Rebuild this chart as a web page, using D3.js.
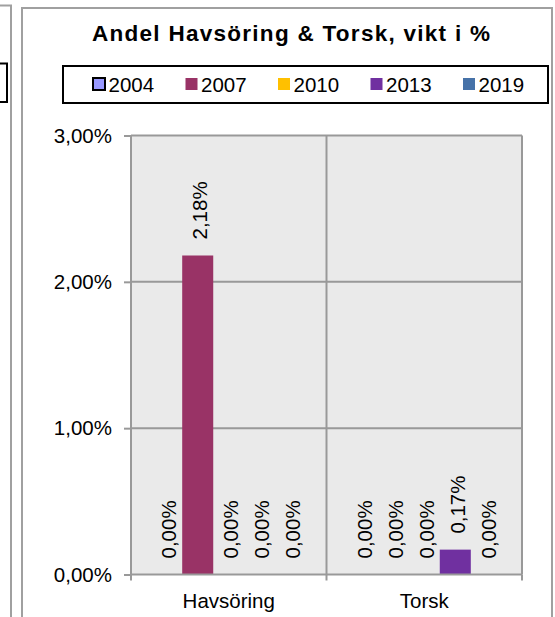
<!DOCTYPE html>
<html>
<head>
<meta charset="utf-8">
<script src="https://cdn.jsdelivr.net/npm/d3@7"></script>
<style>
  html, body { margin: 0; padding: 0; background: #fff; }
  svg { display: block; font-family: "Liberation Sans", Arial, sans-serif; }
</style>
</head>
<body>
<svg id="chart" width="555" height="617"></svg>
<script>
// ---- data ----
const categories = ["Havsöring", "Torsk"];
const years = ["2004", "2007", "2010", "2013", "2019"];
const v2004 = [0.00, 0.00];
const v2007 = [2.18, 0.00];
const v2010 = [0.00, 0.00];
const v2013 = [0.00, 0.17];
const v2019 = [0.00, 0.00];
const yTicks = [0, 1, 2, 3];
const colors = ["#9999ff", "#993366", "#ffc000", "#7030a0", "#4672a8"];
const title = "Andel Havsöring & Torsk, vikt i %";

const seriesValues = [v2004, v2007, v2010, v2013, v2019];
const fmt = d => d.toFixed(2).replace(".", ",") + "%";

const svg = d3.select("#chart");
const FS = 20.5;

// neighbouring chart fragment on the left
svg.append("path").attr("d", "M0,5.5 H11 V617").attr("fill", "none").attr("stroke", "#a0a0a0").attr("stroke-width", 2);
svg.append("path").attr("d", "M0,63.5 H7 V102 H0").attr("fill", "none").attr("stroke", "#000").attr("stroke-width", 2);

// main chart frame
svg.append("path").attr("d", "M22,617 V8 H552 V617").attr("fill", "none").attr("stroke", "#a0a0a0").attr("stroke-width", 2);

// title
svg.append("text").attr("x", 92).attr("y", 41)
  .attr("textLength", 398).attr("lengthAdjust", "spacing")
  .style("font-weight", "bold").style("font-size", "22.5px").attr("fill", "#000")
  .text(title);

// legend
const legend = svg.append("g");
legend.append("rect").attr("x", 63).attr("y", 66).attr("width", 485).attr("height", 37)
  .attr("fill", "#fff").attr("stroke", "#000").attr("stroke-width", 2);
const legX = d3.scalePoint().domain(years).range([93, 463]);
years.forEach((yr, i) => {
  const g = legend.append("g").attr("transform", `translate(${legX(yr)},78)`);
  g.append("rect").attr("x", 0).attr("y", 0).attr("width", 12).attr("height", 12)
    .attr("fill", colors[i])
    .attr("stroke", i === 0 ? "#000" : "none").attr("stroke-width", i === 0 ? 2 : 0);
  g.append("text").attr("x", 15.5).attr("y", 14).style("font-size", FS + "px").attr("fill", "#000").text(yr);
});

// plot area
const pLeft = 131, pRight = 522, pTop = 135.5, pBottom = 574.5;
const x0 = d3.scaleBand().domain(categories).range([pLeft, pRight]).paddingInner(0).paddingOuter(0);
const x1 = d3.scaleBand().domain(years).range([0, x0.bandwidth()]).paddingInner(0).paddingOuter(0.65);
const y = d3.scaleLinear().domain([0, 3]).range([pBottom, pTop]);

svg.append("rect").attr("x", pLeft).attr("y", pTop).attr("width", pRight - pLeft).attr("height", pBottom - pTop)
  .attr("fill", "#eaeaea");

// horizontal gridlines
svg.append("g").selectAll("line").data(yTicks.filter(d => d > 0)).join("line")
  .attr("x1", pLeft).attr("x2", pRight).attr("y1", d => y(d)).attr("y2", d => y(d))
  .attr("stroke", "#999").attr("stroke-width", 2);
// vertical category gridlines
svg.append("g").selectAll("line").data(categories).join("line")
  .attr("x1", d => x0(d) + x0.bandwidth()).attr("x2", d => x0(d) + x0.bandwidth())
  .attr("y1", pTop).attr("y2", pBottom)
  .attr("stroke", "#999").attr("stroke-width", 2);

// bars
const groups = svg.append("g").selectAll("g").data(categories).join("g")
  .attr("transform", d => `translate(${x0(d)},0)`);
groups.each(function(cat, ci) {
  const g = d3.select(this);
  years.forEach((yr, si) => {
    const v = seriesValues[si][ci];
    if (v > 0) {
      g.append("rect").attr("x", x1(yr)).attr("width", x1.bandwidth())
        .attr("y", y(v)).attr("height", y(0) - y(v)).attr("fill", colors[si]);
    }
    const cx = x1(yr) + x1.bandwidth() / 2;
    g.append("text")
      .attr("transform", `translate(${cx + 9.5},${y(v) - 16}) rotate(-90)`)
      .style("font-size", FS + "px").attr("fill", "#000")
      .text(fmt(v));
  });
});

// y axis
const yAxis = svg.append("g").attr("transform", `translate(${pLeft},0)`)
  .call(d3.axisLeft(y).tickValues(yTicks).tickFormat(fmt).tickSize(7).tickPadding(12));
yAxis.select(".domain").attr("stroke", "#999").attr("stroke-width", 2).attr("d", `M0,${pTop}V${pBottom}`);
yAxis.selectAll(".tick line").attr("stroke", "#999").attr("stroke-width", 2);
yAxis.selectAll(".tick text").style("font-size", FS + "px").attr("fill", "#000").attr("font-family", null);

// x axis
const xAxis = svg.append("g").attr("transform", `translate(0,${pBottom})`)
  .call(d3.axisBottom(x0).tickSize(0).tickPadding(19));
xAxis.select(".domain").attr("stroke", "#999").attr("stroke-width", 2).attr("d", `M${pLeft},0H${pRight}`);
xAxis.selectAll(".tick text").style("font-size", FS + "px").attr("fill", "#000").attr("font-family", null);
const bounds = [pLeft].concat(categories.map(c => x0(c) + x0.bandwidth()));
xAxis.append("g").selectAll("line").data(bounds).join("line")
  .attr("x1", d => d).attr("x2", d => d).attr("y1", 0).attr("y2", 6)
  .attr("stroke", "#999").attr("stroke-width", 2);
</script>
</body>
</html>
